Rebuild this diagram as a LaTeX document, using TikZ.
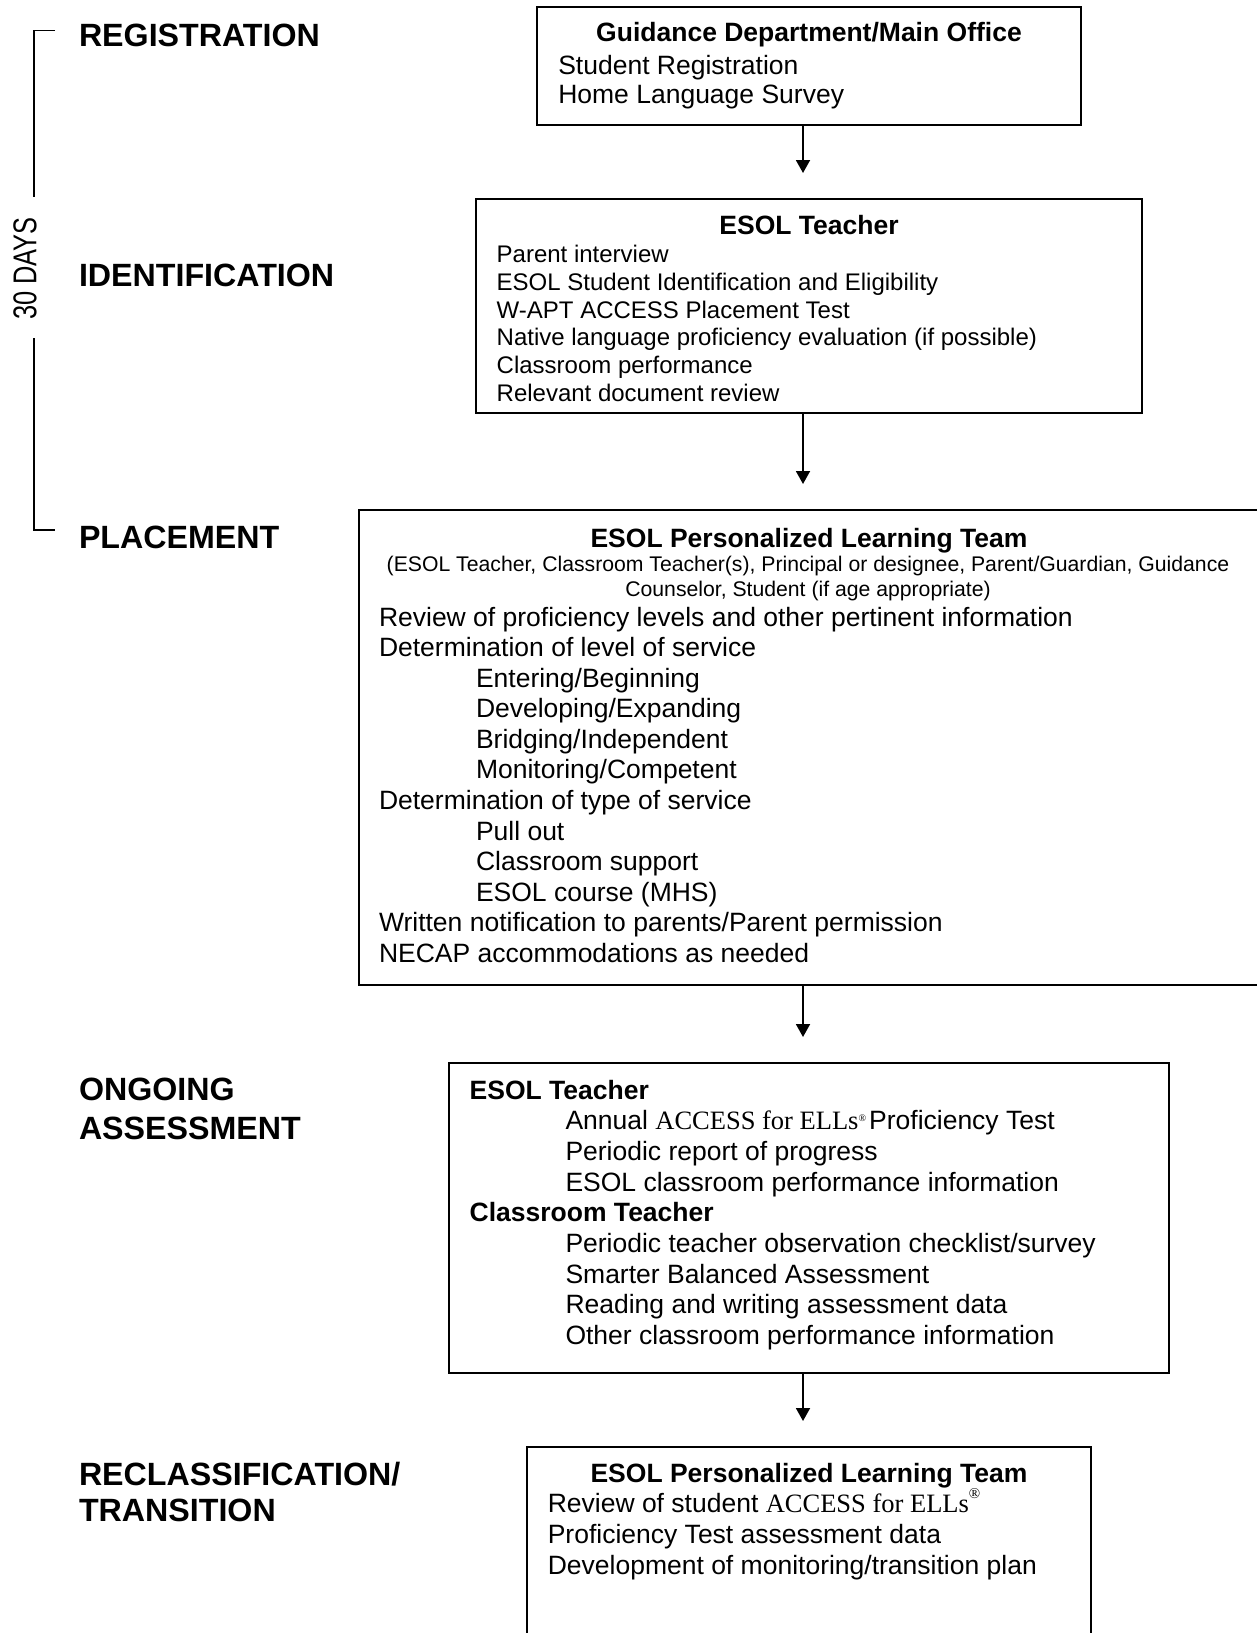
\documentclass[tikz,border=0pt]{standalone}
\usepackage{fontspec}
\setmainfont{Liberation Sans}
\newfontfamily\serfam{Liberation Serif}
\usetikzlibrary{arrows.meta}
\newcommand{\accessname}{{\serfam ACCESS for ELLs}}
\begin{document}
\begin{tikzpicture}[x=1pt,y=-1pt,
  every node/.style={inner sep=0pt,outer sep=0pt},
  stage/.style={anchor=base west,font=\fontsize{32.2}{36}\selectfont\bfseries},
  boxttl/.style={anchor=base,font=\fontsize{26.5}{30}\selectfont\bfseries},
  boxsub/.style={anchor=base west,font=\fontsize{26.5}{30}\selectfont\bfseries},
  body/.style={anchor=base west,font=\fontsize{26.5}{30}\selectfont},
  smallbody/.style={anchor=base west,font=\fontsize{24}{28}\selectfont},
  paren/.style={anchor=base,font=\fontsize{21.2}{25}\selectfont},
  frame/.style={draw,line width=1.8pt,anchor=north west,rectangle},
  flow/.style={line width=1.8pt,-{Triangle[width=14pt,length=13pt]},shorten >=26pt},
  brk/.style={line width=1.8pt}]
\useasboundingbox (0,0) rectangle (1257,1633);
\clip (0,0) rectangle (1257,1633);

% stage labels
\node[stage] (sReg) at (79,46) {REGISTRATION};
\node[stage] (sIde) at (79,286) {IDENTIFICATION};
\node[stage] (sPla) at (79,548) {PLACEMENT};
\node[stage] (sOng) at (79,1100) {ONGOING};
\node[stage] (sAss) at (79,1139) {ASSESSMENT};
\node[stage] (sRec) at (79,1485) {RECLASSIFICATION/};
\node[stage] (sTra) at (79,1521) {TRANSITION};

% 30 days bracket
\node[rotate=90] (days) at (25,268.5) {\scalebox{0.77}[1]{\fontsize{33}{33}\selectfont 30 DAYS}};
\draw[brk] (55,30.4) -- (34.3,30.4) -- (34.3,197);
\draw[brk] (34.3,338) -- (34.3,530) -- (55,530);

% boxes
\node[frame,minimum width=544pt,minimum height=118pt] (b1) at (537,7) {};
\node[frame,minimum width=666pt,minimum height=214pt] (b2) at (476,199) {};
\node[frame,minimum width=905pt,minimum height=475pt] (b3) at (359,510) {};
\node[frame,minimum width=720pt,minimum height=310pt] (b4) at (449,1063) {};
\node[frame,minimum width=564pt,minimum height=200pt] (b5) at (527,1447) {};

% arrows
\coordinate (ax) at (803,0);
\draw[flow] (b1.south -| ax) -- (b2.north -| ax);
\draw[flow] (b2.south -| ax) -- (b3.north -| ax);
\draw[flow] (b3.south -| ax) -- (b4.north -| ax);
\draw[flow] (b4.south -| ax) -- (b5.north -| ax);

% box 1
\node[boxttl] (t1) at (809,41.7) {Guidance Department/Main Office};
\node[body] (l1a) at (558.3,74) {Student Registration};
\node[body] (l1b) at (558.3,103.5) {Home Language Survey};

% box 2
\node[boxttl] (t2) at (809,234.5) {ESOL Teacher};
\node[smallbody] (l2a) at (496.7,262.7) {Parent interview};
\node[smallbody] (l2b) at (496.7,290.4) {ESOL Student Identification and Eligibility};
\node[smallbody] (l2c) at (496.7,318.1) {W-APT ACCESS Placement Test};
\node[smallbody] (l2d) at (496.7,345.8) {Native language proficiency evaluation (if possible)};
\node[smallbody] (l2e) at (496.7,373.5) {Classroom performance};
\node[smallbody] (l2f) at (496.7,401.2) {Relevant document review};

% box 3
\node[boxttl] (t3) at (809,547) {ESOL Personalized Learning Team};
\node[paren] (p3a) at (808,571) {(ESOL Teacher, Classroom Teacher(s), Principal or designee, Parent/Guardian, Guidance};
\node[paren] (p3b) at (808,596) {Counselor, Student (if age appropriate)};
\node[body] (l3a) at (379,626) {Review of proficiency levels and other pertinent information};
\node[body] (l3b) at (379,656.6) {Determination of level of service};
\node[body] (l3c) at (476,687.2) {Entering/Beginning};
\node[body] (l3d) at (476,717.7) {Developing/Expanding};
\node[body] (l3e) at (476,748.3) {Bridging/Independent};
\node[body] (l3f) at (476,778.9) {Monitoring/Competent};
\node[body] (l3g) at (379,809.5) {Determination of type of service};
\node[body] (l3h) at (476,840.1) {Pull out};
\node[body] (l3i) at (476,870.6) {Classroom support};
\node[body] (l3j) at (476,901.2) {ESOL course (MHS)};
\node[body] (l3k) at (379,931.8) {Written notification to parents/Parent permission};
\node[body] (l3l) at (379,962.4) {NECAP accommodations as needed};

% box 4
\node[boxsub] (t4a) at (469.7,1099) {ESOL Teacher};
\node[body] (l4a) at (565.5,1129.7) {Annual \accessname\raisebox{0.3em}{\fontsize{10}{10}\selectfont\serfam ®}\hspace{3pt}Proficiency Test};
\node[body] (l4b) at (565.5,1160.4) {Periodic report of progress};
\node[body] (l4c) at (565.5,1191.1) {ESOL classroom performance information};
\node[boxsub] (t4b) at (469.7,1221.8) {Classroom Teacher};
\node[body] (l4d) at (565.5,1252.5) {Periodic teacher observation checklist/survey};
\node[body] (l4e) at (565.5,1283.2) {Smarter Balanced Assessment};
\node[body] (l4f) at (565.5,1313.9) {Reading and writing assessment data};
\node[body] (l4g) at (565.5,1344.6) {Other classroom performance information};

% box 5
\node[boxttl] (t5) at (809,1482) {ESOL Personalized Learning Team};
\node[body] (l5a) at (547.8,1512.7) {Review of student \accessname\raisebox{0.55em}{\fontsize{15}{15}\selectfont\serfam ®}};
\node[body] (l5b) at (547.8,1543.4) {Proficiency Test assessment data};
\node[body] (l5c) at (547.8,1574.1) {Development of monitoring/transition plan};
\end{tikzpicture}
\end{document}
